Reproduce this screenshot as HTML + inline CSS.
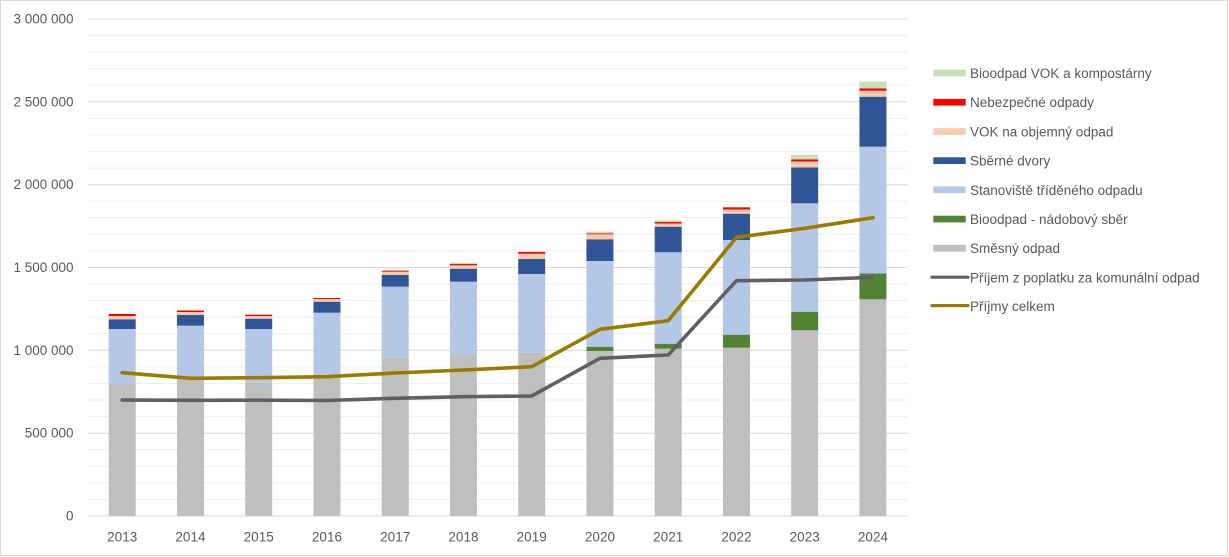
<!DOCTYPE html>
<html>
<head>
<meta charset="utf-8">
<style>
  html,body{margin:0;padding:0;background:#fff;}
  svg{display:block;}
  text{font-family:"Liberation Sans",Arial,sans-serif;fill:#595959;font-size:13.5px;}
</style>
</head>
<body>
<svg width="1229" height="557" viewBox="0 0 1229 557" xmlns="http://www.w3.org/2000/svg">
  <rect x="0.5" y="0.5" width="1227" height="555" fill="#fff" stroke="#D9D9D9" stroke-width="1"/>

  <!-- minor gridlines -->
  <path stroke="#EFEFEF" stroke-width="1" fill="none" d="
    M88 499.4H908 M88 482.9H908 M88 466.3H908 M88 449.7H908
    M88 416.6H908 M88 400H908 M88 383.5H908 M88 366.9H908
    M88 333.8H908 M88 317.2H908 M88 300.6H908 M88 284.1H908
    M88 250.9H908 M88 234.4H908 M88 217.8H908 M88 201.2H908
    M88 168.1H908 M88 151.5H908 M88 135H908 M88 118.4H908
    M88 85.3H908 M88 68.7H908 M88 52.1H908 M88 35.6H908"/>
  <!-- major gridlines -->
  <path stroke="#D9D9D9" stroke-width="1" fill="none" d="
    M88 516H908 M88 433.2H908 M88 350.3H908 M88 267.5H908
    M88 184.7H908 M88 101.8H908 M88 19H908"/>

  <!-- y labels -->
  <g text-anchor="end" dominant-baseline="central">
    <text x="73.5" y="19">3 000 000</text>
    <text x="73.5" y="101.8">2 500 000</text>
    <text x="73.5" y="184.7">2 000 000</text>
    <text x="73.5" y="267.5">1 500 000</text>
    <text x="73.5" y="350.3">1 000 000</text>
    <text x="73.5" y="433.2">500 000</text>
    <text x="73.5" y="516">0</text>
  </g>

  <!-- x labels -->
  <g text-anchor="middle" dominant-baseline="central">
    <text x="122.2" y="537">2013</text>
    <text x="190.45" y="537">2014</text>
    <text x="258.7" y="537">2015</text>
    <text x="326.95" y="537">2016</text>
    <text x="395.2" y="537">2017</text>
    <text x="463.45" y="537">2018</text>
    <text x="531.7" y="537">2019</text>
    <text x="599.95" y="537">2020</text>
    <text x="668.2" y="537">2021</text>
    <text x="736.45" y="537">2022</text>
    <text x="804.7" y="537">2023</text>
    <text x="872.95" y="537">2024</text>
  </g>

  <!-- bars -->
  <g>
    <rect x="108.7" y="383.3" width="27" height="132.7" fill="#BFBFBF"/>
    <rect x="108.7" y="329" width="27" height="54.3" fill="#B4C7E7"/>
    <rect x="108.7" y="319.3" width="27" height="9.7" fill="#2F5597"/>
    <rect x="108.7" y="316" width="27" height="3.3" fill="#F8CBAD"/>
    <rect x="108.7" y="314" width="27" height="2" fill="#FF0000"/>
  </g>
  <g>
    <rect x="176.95" y="378.5" width="27" height="137.5" fill="#BFBFBF"/>
    <rect x="176.95" y="325.7" width="27" height="52.8" fill="#B4C7E7"/>
    <rect x="176.95" y="315" width="27" height="10.7" fill="#2F5597"/>
    <rect x="176.95" y="312" width="27" height="3" fill="#F8CBAD"/>
    <rect x="176.95" y="310.5" width="27" height="1.5" fill="#FF0000"/>
  </g>
  <g>
    <rect x="245.2" y="382.7" width="27" height="133.3" fill="#BFBFBF"/>
    <rect x="245.2" y="329" width="27" height="53.7" fill="#B4C7E7"/>
    <rect x="245.2" y="318.7" width="27" height="10.3" fill="#2F5597"/>
    <rect x="245.2" y="316" width="27" height="2.7" fill="#F8CBAD"/>
    <rect x="245.2" y="314.7" width="27" height="1.3" fill="#FF0000"/>
  </g>
  <g>
    <rect x="313.45" y="378.5" width="27" height="137.5" fill="#BFBFBF"/>
    <rect x="313.45" y="312.7" width="27" height="65.8" fill="#B4C7E7"/>
    <rect x="313.45" y="301.7" width="27" height="11" fill="#2F5597"/>
    <rect x="313.45" y="299" width="27" height="2.7" fill="#F8CBAD"/>
    <rect x="313.45" y="298" width="27" height="1" fill="#FF0000"/>
  </g>
  <g>
    <rect x="381.7" y="357.3" width="27" height="158.7" fill="#BFBFBF"/>
    <rect x="381.7" y="286.7" width="27" height="70.6" fill="#B4C7E7"/>
    <rect x="381.7" y="275" width="27" height="11.7" fill="#2F5597"/>
    <rect x="381.7" y="271.7" width="27" height="3.3" fill="#F8CBAD"/>
    <rect x="381.7" y="270.7" width="27" height="1" fill="#FF0000"/>
    <rect x="381.7" y="270" width="27" height="0.7" fill="#C5E0B4"/>
  </g>
  <g>
    <rect x="449.95" y="355" width="27" height="161" fill="#BFBFBF"/>
    <rect x="449.95" y="281.7" width="27" height="73.3" fill="#B4C7E7"/>
    <rect x="449.95" y="268.7" width="27" height="13" fill="#2F5597"/>
    <rect x="449.95" y="265.3" width="27" height="3.4" fill="#F8CBAD"/>
    <rect x="449.95" y="264" width="27" height="1.3" fill="#FF0000"/>
    <rect x="449.95" y="262.7" width="27" height="1.3" fill="#C5E0B4"/>
  </g>
  <g>
    <rect x="518.2" y="352.7" width="27" height="163.3" fill="#BFBFBF"/>
    <rect x="518.2" y="274" width="27" height="78.7" fill="#B4C7E7"/>
    <rect x="518.2" y="259" width="27" height="15" fill="#2F5597"/>
    <rect x="518.2" y="253.7" width="27" height="5.3" fill="#F8CBAD"/>
    <rect x="518.2" y="252" width="27" height="1.7" fill="#FF0000"/>
    <rect x="518.2" y="251.3" width="27" height="0.7" fill="#C5E0B4"/>
  </g>
  <g>
    <rect x="586.45" y="351" width="27" height="165" fill="#BFBFBF"/>
    <rect x="586.45" y="346.7" width="27" height="4.3" fill="#548235"/>
    <rect x="586.45" y="261" width="27" height="85.7" fill="#B4C7E7"/>
    <rect x="586.45" y="239.3" width="27" height="21.7" fill="#2F5597"/>
    <rect x="586.45" y="234.3" width="27" height="5" fill="#F8CBAD"/>
    <rect x="586.45" y="233.3" width="27" height="1" fill="#FF0000"/>
    <rect x="586.45" y="231.7" width="27" height="1.6" fill="#C5E0B4"/>
  </g>
  <g>
    <rect x="654.7" y="348.7" width="27" height="167.3" fill="#BFBFBF"/>
    <rect x="654.7" y="343.7" width="27" height="5" fill="#548235"/>
    <rect x="654.7" y="252.3" width="27" height="91.4" fill="#B4C7E7"/>
    <rect x="654.7" y="226.7" width="27" height="25.6" fill="#2F5597"/>
    <rect x="654.7" y="223.5" width="27" height="3.2" fill="#F8CBAD"/>
    <rect x="654.7" y="222" width="27" height="1.5" fill="#FF0000"/>
    <rect x="654.7" y="220.3" width="27" height="1.7" fill="#C5E0B4"/>
  </g>
  <g>
    <rect x="722.95" y="347.7" width="27" height="168.3" fill="#BFBFBF"/>
    <rect x="722.95" y="334.7" width="27" height="13" fill="#548235"/>
    <rect x="722.95" y="240" width="27" height="94.7" fill="#B4C7E7"/>
    <rect x="722.95" y="213.7" width="27" height="26.3" fill="#2F5597"/>
    <rect x="722.95" y="209.5" width="27" height="4.2" fill="#F8CBAD"/>
    <rect x="722.95" y="207.3" width="27" height="2.2" fill="#FF0000"/>
  </g>
  <g>
    <rect x="791.2" y="330.3" width="27" height="185.7" fill="#BFBFBF"/>
    <rect x="791.2" y="311.7" width="27" height="18.6" fill="#548235"/>
    <rect x="791.2" y="203.3" width="27" height="108.4" fill="#B4C7E7"/>
    <rect x="791.2" y="167.5" width="27" height="35.8" fill="#2F5597"/>
    <rect x="791.2" y="161.5" width="27" height="6" fill="#F8CBAD"/>
    <rect x="791.2" y="159.3" width="27" height="2.2" fill="#FF0000"/>
    <rect x="791.2" y="154.8" width="27" height="4.5" fill="#C5E0B4"/>
  </g>
  <g>
    <rect x="859.45" y="299.3" width="27" height="216.7" fill="#BFBFBF"/>
    <rect x="859.45" y="273.3" width="27" height="26" fill="#548235"/>
    <rect x="859.45" y="146.7" width="27" height="126.6" fill="#B4C7E7"/>
    <rect x="859.45" y="96.7" width="27" height="50" fill="#2F5597"/>
    <rect x="859.45" y="90.7" width="27" height="6" fill="#F8CBAD"/>
    <rect x="859.45" y="88.3" width="27" height="2.4" fill="#FF0000"/>
    <rect x="859.45" y="81.7" width="27" height="6.6" fill="#C5E0B4"/>
  </g>

  <!-- lines -->
  <polyline fill="none" stroke="#606060" stroke-width="3.6" stroke-linejoin="round" stroke-linecap="round"
    points="122.2,400 190.45,400.3 258.7,400.2 326.95,400.5 395.2,398.3 463.45,396.7 531.7,396 599.95,358.3 668.2,355 736.45,280.7 804.7,280 872.95,277.3"/>
  <polyline fill="none" stroke="#9C7A00" stroke-width="3.6" stroke-linejoin="round" stroke-linecap="round"
    points="122.2,372.7 190.45,378.3 258.7,377.7 326.95,376.7 395.2,373 463.45,370 531.7,366.7 599.95,329.3 668.2,320.7 736.45,237.3 804.7,228.3 872.95,217.7"/>

  <!-- legend -->
  <g>
    <rect x="933.3" y="69.7" width="32.4" height="6.7" fill="#C5E0B4"/>
    <rect x="933.3" y="98.9" width="32.4" height="6.7" fill="#FF0000"/>
    <rect x="933.3" y="128.1" width="32.4" height="6.7" fill="#F8CBAD"/>
    <rect x="933.3" y="157.3" width="32.4" height="6.7" fill="#2F5597"/>
    <rect x="933.3" y="186.5" width="32.4" height="6.7" fill="#B4C7E7"/>
    <rect x="933.3" y="215.7" width="32.4" height="6.7" fill="#548235"/>
    <rect x="933.3" y="244.9" width="32.4" height="6.7" fill="#BFBFBF"/>
    <line x1="932" y1="277.2" x2="968" y2="277.2" stroke="#606060" stroke-width="3.2" stroke-linecap="round"/>
    <line x1="932" y1="305.6" x2="968" y2="305.6" stroke="#9C7A00" stroke-width="3.2" stroke-linecap="round"/>
  </g>
  <g dominant-baseline="central">
    <text x="970" y="73.5">Bioodpad VOK a kompostárny</text>
    <text x="970" y="102.7">Nebezpečné odpady</text>
    <text x="970" y="131.9">VOK na objemný odpad</text>
    <text x="970" y="161.1">Sběrné dvory</text>
    <text x="970" y="190.3">Stanoviště tříděného odpadu</text>
    <text x="970" y="219.5">Bioodpad - nádobový sběr</text>
    <text x="970" y="248.7">Směsný odpad</text>
    <text x="970" y="277.9">Příjem z poplatku za komunální odpad</text>
    <text x="970" y="306.5">Příjmy celkem</text>
  </g>
</svg>
</body>
</html>
